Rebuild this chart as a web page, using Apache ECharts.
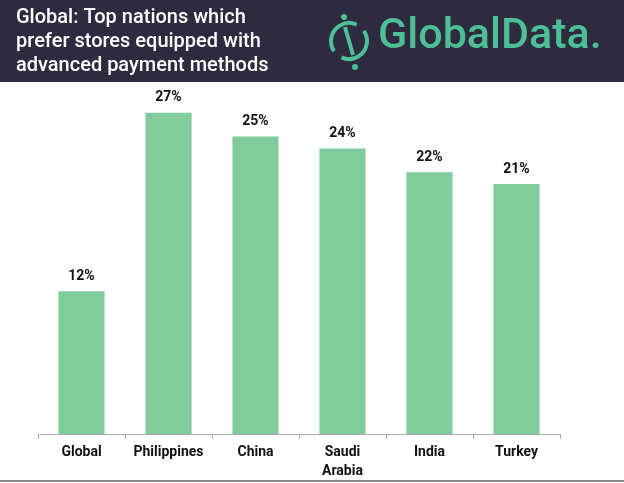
<!DOCTYPE html><html><head><meta charset="utf-8"><script src="https://cdn.jsdelivr.net/npm/echarts@6/dist/echarts.min.js"></script>
<style>html,body{margin:0;padding:0;background:#fff}#c{width:624px;height:483px}</style></head><body><div id="c"></div><script>
const categories=['Global','Philippines','China','Saudi\nArabia','India','Turkey'];
const values=[12,27,25,24,22,21];
const title='Global: Top nations which\nprefer stores equipped with\nadvanced payment methods';
const ch=echarts.init(document.getElementById('c'));
ch.setOption({
animation:false,
graphic:[
{type:'rect',shape:{x:0,y:0,width:624,height:82},style:{fill:'#2e2a40'},z:0},
{type:'text',left:16,top:6,style:{text:title,fill:'#fff',font:'500 20px Roboto',lineHeight:24},z:1},
{type:'arc',shape:{cx:349,cy:41,r:18,startAngle:-0.6,endAngle:2.0,clockwise:true},style:{stroke:'#4dbf94',lineWidth:4,fill:'none'},z:1},
{type:'arc',shape:{cx:349,cy:41,r:18,startAngle:2.55,endAngle:5.15,clockwise:true},style:{stroke:'#4dbf94',lineWidth:4,fill:'none'},z:1},
{type:'line',shape:{x1:345,y1:27,x2:353,y2:55},style:{stroke:'#4dbf94',lineWidth:4},z:1},
{type:'circle',shape:{cx:344,cy:17,r:3},style:{fill:'#4dbf94'},z:1},
{type:'circle',shape:{cx:355,cy:67,r:3},style:{fill:'#4dbf94'},z:1},
{type:'text',left:378,top:16,style:{text:'GlobalData.',fill:'#4dbf94',font:'500 43px Roboto'},z:1},
{type:'line',shape:{x1:0,y1:481,x2:624,y2:481},style:{stroke:'#666',lineWidth:1.5},z:1}
],
grid:{left:38,right:64,top:77,bottom:49},
xAxis:{type:'category',data:categories,axisLine:{lineStyle:{color:'#aaa'}},axisTick:{show:true,lineStyle:{color:'#aaa'}},
axisLabel:{interval:0,hideOverlap:false,color:'#111',fontWeight:'bold',fontSize:14,fontFamily:'Roboto',lineHeight:19,margin:9}},
yAxis:{type:'value',min:0,max:30,show:false,splitLine:{show:false}},
series:[{type:'bar',data:values,barWidth:'53%',itemStyle:{color:'#80cc9c'},
label:{show:true,position:'top',formatter:'{c}%',color:'#111',fontWeight:'bold',fontSize:14,fontFamily:'Roboto',distance:8}}]
});
</script></body></html>
